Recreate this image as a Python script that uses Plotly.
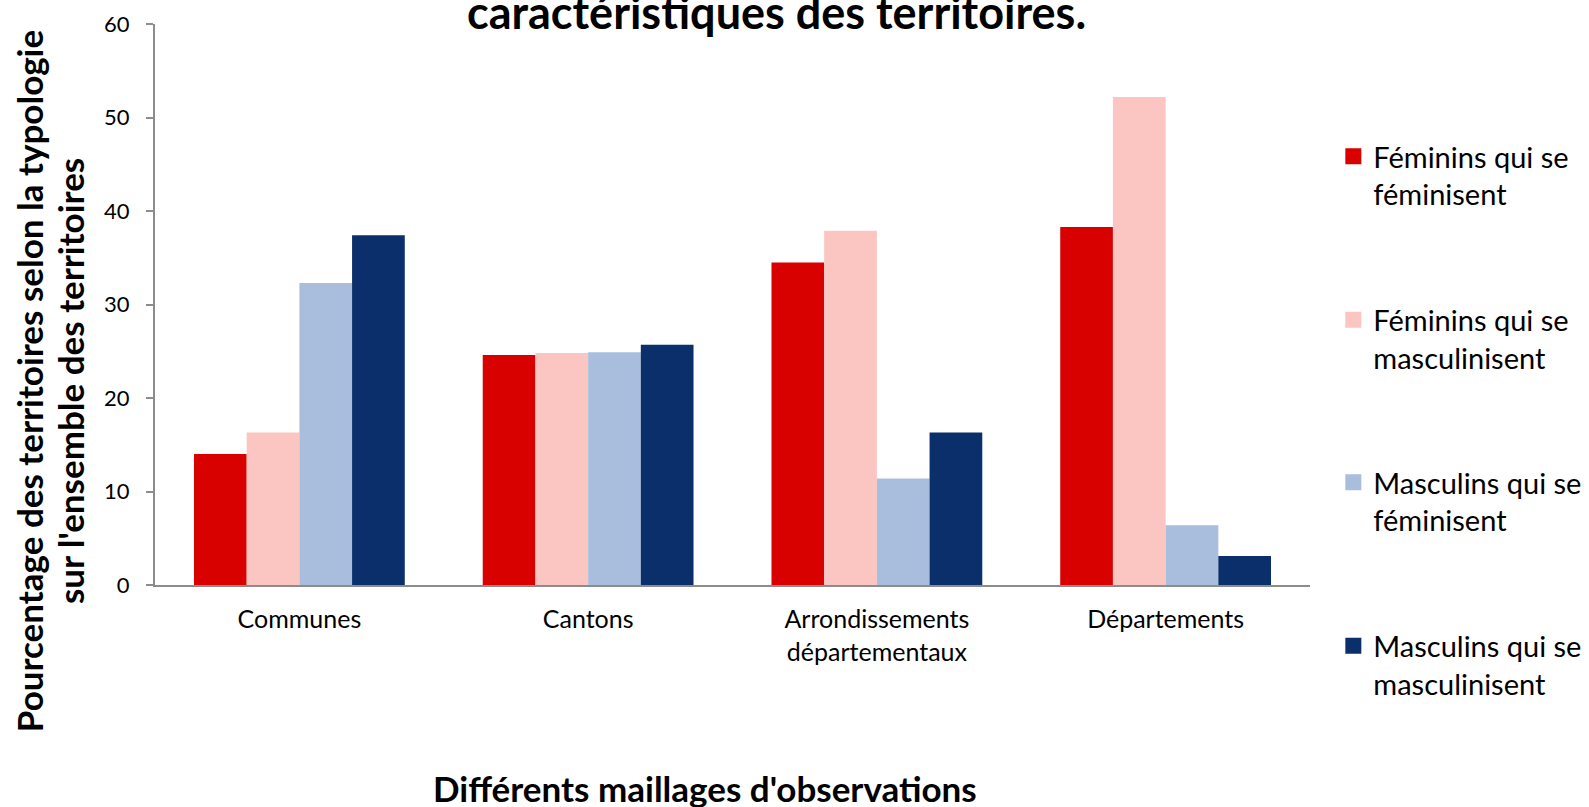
import plotly.graph_objects as go

categories = ["Communes", "Cantons", "Arrondissements<br>départementaux", "Départements"]
series_names = ["Féminins qui se<br>féminisent", "Féminins qui se<br>masculinisent",
                "Masculins qui se<br>féminisent", "Masculins qui se<br>masculinisent"]
fem_fem = [14.0, 24.6, 34.5, 38.3]
fem_masc = [16.3, 24.8, 37.9, 52.2]
masc_fem = [32.3, 24.9, 11.4, 6.4]
masc_masc = [37.4, 25.7, 16.3, 3.1]
colors = ["#D90000", "#FBC5C1", "#A9BEDC", "#0A2F6A"]
legend_ids = ["legend", "legend", "legend2", "legend2"]
y_ticks = [0, 10, 20, 30, 40, 50, 60]

FONT = "Lato"
fig = go.Figure()
for name, vals, col, lg in zip(series_names, [fem_fem, fem_masc, masc_fem, masc_masc], colors, legend_ids):
    fig.add_trace(go.Bar(x=categories, y=vals, name=name, marker=dict(color=col, line=dict(width=0)),
                         showlegend=False, legendgroup=name))
    fig.add_trace(go.Scatter(x=[None], y=[None], mode="markers", name=name, legendgroup=name,
                             legend=lg, marker=dict(symbol="square", size=18, color=col)))

legend_common = dict(xanchor="left", xref="paper", yanchor="top",
                     font=dict(family=FONT, size=29, color="#000000"),
                     traceorder="grouped", tracegroupgap=85, valign="top",
                     itemclick=False, bgcolor="rgba(0,0,0,0)")

fig.update_layout(
    width=1589, height=807,
    margin=dict(l=155, r=279, t=24, b=222, autoexpand=False),
    paper_bgcolor="white", plot_bgcolor="white",
    barmode="group", bargap=0.27, bargroupgap=0,
    font=dict(family=FONT, color="#000000"),
    legend=dict(x=1.0202, y=0.8093, **legend_common),
    legend2=dict(x=1.0202, y=0.2282, **legend_common),
    xaxis=dict(showline=True, linecolor="#8C8C8C", linewidth=2, ticks="",
               tickfont=dict(family=FONT, size=25, color="#000000"),
               ticklabelstandoff=11, showgrid=False, zeroline=False),
    yaxis=dict(range=[0, 60], tickvals=y_ticks, showline=True, linecolor="#8C8C8C", linewidth=2,
               ticks="outside", ticklen=7, tickcolor="#8C8C8C", tickwidth=2,
               tickfont=dict(family=FONT, size=22, color="#000000"),
               ticklabelstandoff=12, showgrid=False, zeroline=False),
    annotations=[
        dict(text="<b>caractéristiques des territoires.</b>", x=0.5377, y=1.0213, xref="paper", yref="paper",
             xanchor="center", yanchor="middle", showarrow=False, font=dict(family=FONT, size=45)),
        dict(text="<b>Pourcentage des territoires selon la typologie</b>", x=-0.1096, y=0.364,
             xref="paper", yref="paper", xanchor="center", yanchor="middle", textangle=-90,
             showarrow=False, font=dict(family=FONT, size=35)),
        dict(text="<b>sur l'ensemble des territoires</b>", x=-0.0742, y=0.364,
             xref="paper", yref="paper", xanchor="center", yanchor="middle", textangle=-90,
             showarrow=False, font=dict(family=FONT, size=35)),
        dict(text="<b>Différents maillages d'observations</b>", x=0.476, y=-0.362,
             xref="paper", yref="paper", xanchor="center", yanchor="middle",
             showarrow=False, font=dict(family=FONT, size=35)),
    ],
)
fig.write_html("out.html", config={"displayModeBar": False},
               post_script="document.body.style.margin='0px';")
